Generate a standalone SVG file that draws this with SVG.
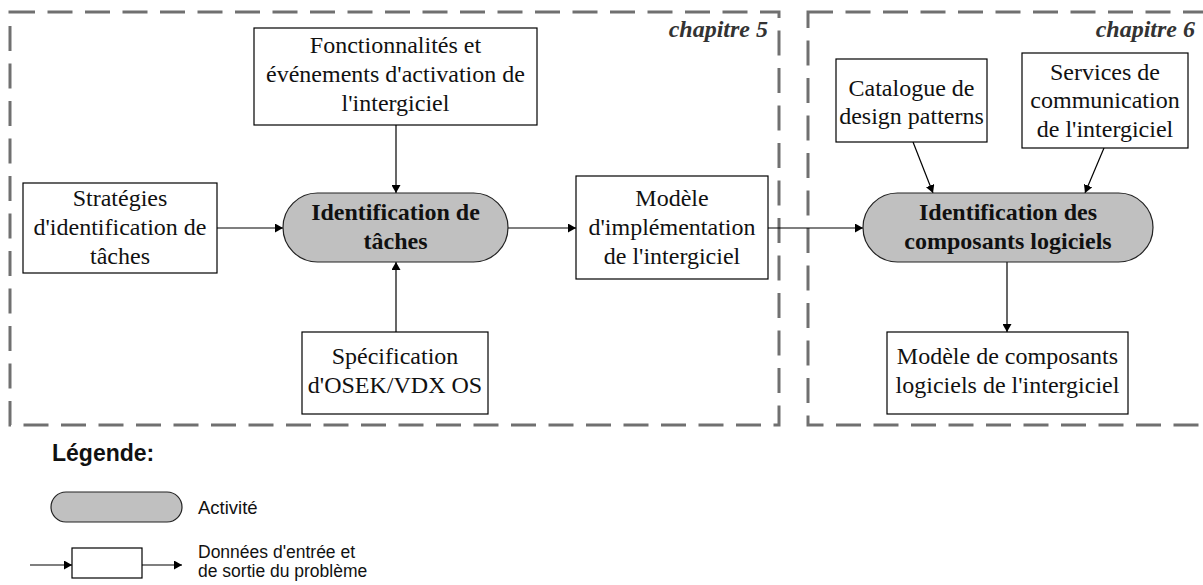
<svg xmlns="http://www.w3.org/2000/svg" width="1203" height="585" viewBox="0 0 1203 585">
<style>
.frame{fill:none;stroke:#707070;stroke-width:3;stroke-dasharray:25 12.5}
.box{fill:#fff;stroke:#000;stroke-width:1.2}
.pill{fill:#c0c0c0;stroke:#222;stroke-width:1.2}
.t{font-family:"Liberation Serif","Times New Roman",serif;font-size:24px;fill:#111;text-anchor:middle}
.b{font-weight:bold}
.ch{font-family:"Liberation Serif","Times New Roman",serif;font-size:24px;font-weight:bold;font-style:italic;fill:#333;text-anchor:end}
.lg{font-family:"Liberation Sans",Arial,sans-serif;fill:#111}
.c{fill:none;stroke:#000;stroke-width:1.2;marker-end:url(#ah)}
</style>
<defs>
<marker id="ah" markerUnits="userSpaceOnUse" markerWidth="9" markerHeight="9" refX="8" refY="4.5" orient="auto">
<path d="M0,0 L8,4.5 L0,9 z" fill="#000"/>
</marker>
</defs>
<rect fill="#fff" x="0" y="0" width="1203" height="585"/>
<g id="frames">
<rect class="frame" x="10" y="12" width="769" height="413"/>
<rect class="frame" x="808" y="12" width="420" height="413"/>
<text class="ch" x="768" y="37">chapitre 5</text>
<text class="ch" x="1195" y="37">chapitre 6</text>
</g>
<g id="connectors">
<line class="c" x1="217" y1="228" x2="283" y2="228"/>
<line class="c" x1="396" y1="125" x2="396" y2="193"/>
<line class="c" x1="396" y1="332" x2="396" y2="262"/>
<line class="c" x1="508" y1="228" x2="576" y2="228"/>
<line class="c" x1="768" y1="228" x2="863" y2="228"/>
<line class="c" x1="913" y1="142" x2="933" y2="193"/>
<line class="c" x1="1104" y1="148" x2="1085" y2="193"/>
<line class="c" x1="1007" y1="262" x2="1007" y2="332"/>
</g>
<g id="n-fonctionnalites">
<rect class="box" x="254" y="28" width="283" height="97"/>
<text class="t" x="395.5" y="53">Fonctionnalités et</text>
<text class="t" x="395.5" y="82">événements d'activation de</text>
<text class="t" x="395.5" y="111">l'intergiciel</text>
</g>
<g id="n-strategies">
<rect class="box" x="23" y="183" width="194" height="90"/>
<text class="t" x="120" y="206">Stratégies</text>
<text class="t" x="120" y="235">d'identification de</text>
<text class="t" x="120" y="264">tâches</text>
</g>
<g id="n-identification-taches">
<rect class="pill" x="283" y="193" width="225" height="69" rx="34.5"/>
<text class="t b" x="395.5" y="220">Identification de</text>
<text class="t b" x="395.5" y="249">tâches</text>
</g>
<g id="n-specification">
<rect class="box" x="302" y="332" width="186" height="82"/>
<text class="t" x="395" y="364">Spécification</text>
<text class="t" x="395" y="393">d'OSEK/VDX OS</text>
</g>
<g id="n-modele-implementation">
<rect class="box" x="576" y="176" width="192" height="103"/>
<text class="t" x="672" y="206">Modèle</text>
<text class="t" x="672" y="235">d'implémentation</text>
<text class="t" x="672" y="264">de l'intergiciel</text>
</g>
<g id="n-catalogue">
<rect class="box" x="836" y="59" width="151" height="83"/>
<text class="t" x="911.5" y="96">Catalogue de</text>
<text class="t" x="911.5" y="124">design patterns</text>
</g>
<g id="n-services">
<rect class="box" x="1022" y="53" width="166" height="95"/>
<text class="t" x="1105" y="80">Services de</text>
<text class="t" x="1105" y="108">communication</text>
<text class="t" x="1105" y="137">de l'intergiciel</text>
</g>
<g id="n-identification-composants">
<rect class="pill" x="863" y="193" width="290" height="69" rx="34.5"/>
<text class="t b" x="1008" y="220">Identification des</text>
<text class="t b" x="1008" y="249">composants logiciels</text>
</g>
<g id="n-modele-composants">
<rect class="box" x="887" y="332" width="241" height="82"/>
<text class="t" x="1007.5" y="364">Modèle de composants</text>
<text class="t" x="1007.5" y="393">logiciels de l'intergiciel</text>
</g>
<g id="legend">
<text class="lg" x="52" y="461" font-size="23" font-weight="bold">Légende:</text>
<rect class="pill" x="51" y="492" width="131" height="30" rx="15"/>
<text class="lg" x="198" y="514" font-size="18.5">Activité</text>
<line class="c" x1="30" y1="565" x2="72" y2="565"/>
<rect class="box" x="72" y="548" width="70" height="30"/>
<line class="c" x1="142" y1="565" x2="182" y2="565"/>
<text class="lg" x="198" y="558" font-size="17.5">Données d'entrée et</text>
<text class="lg" x="198" y="577" font-size="17.5">de sortie du problème</text>
</g>
</svg>
